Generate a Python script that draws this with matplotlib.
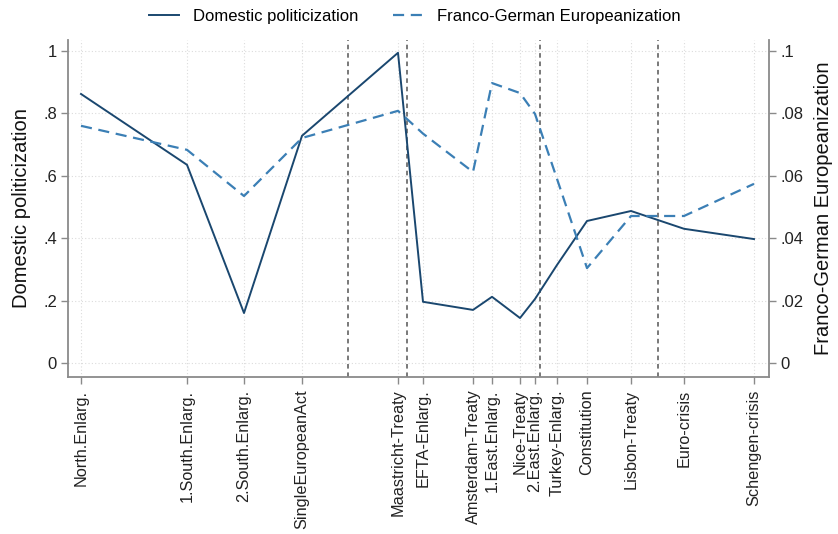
import matplotlib
matplotlib.use("Agg")
import matplotlib.pyplot as plt

plt.rcParams['font.family'] = ['Liberation Sans', 'DejaVu Sans']

events = ['North.Enlarg.', '1.South.Enlarg.', '2.South.Enlarg.', 'SingleEuropeanAct',
          'Maastricht-Treaty', 'EFTA-Enlarg.', 'Amsterdam-Treaty', '1.East.Enlarg.',
          'Nice-Treaty', '2.East.Enlarg.', 'Turkey-Enlarg.', 'Constitution',
          'Lisbon-Treaty', 'Euro-crisis', 'Schengen-crisis']
event_pos = [13, 119, 176, 234, 330, 355, 405, 424, 452, 467, 489, 519, 563, 616, 686]
domestic = [0.862, 0.635, 0.16, 0.728, 0.994, 0.196, 0.17, 0.212, 0.144, 0.205,
            0.314, 0.455, 0.487, 0.43, 0.397]
franco_german = [0.076, 0.0683, 0.0535, 0.0721, 0.0808, 0.0735, 0.0612, 0.0897,
                 0.0865, 0.0798, 0.059, 0.0304, 0.0471, 0.0471, 0.0574]
breaks = [280, 339, 472, 590]
left_ticks = [0, 0.2, 0.4, 0.6, 0.8, 1.0]
left_labels = ['0', '.2', '.4', '.6', '.8', '1']
right_ticks = [0, 0.02, 0.04, 0.06, 0.08, 0.1]
right_labels = ['0', '.02', '.04', '.06', '.08', '.1']

navy = '#1a476f'
blue = '#3b7fb5'
axcol = '#8a8a8a'

fig = plt.figure(figsize=(8.38, 5.34), dpi=100)
ax = fig.add_axes([68 / 838, 1 - 377 / 534, (769 - 68) / 838, (377 - 40) / 534])
ax2 = ax.twinx()

ax.set_xlim(0, 701)
ax.set_ylim(-0.045, 1.035)
ax2.set_ylim(-0.0045, 0.1035)

# grid
for x in event_pos:
    ax.axvline(x, color='#dcdcdc', lw=0.8, ls=(0, (1, 2)), zorder=0)
for y in left_ticks:
    ax.axhline(y, color='#dcdcdc', lw=0.8, ls=(0, (1, 2)), zorder=0)
for x in breaks:
    ax.axvline(x, color='#555555', lw=1.1, ls=(0, (3, 2.5)), zorder=1)

l1, = ax.plot(event_pos, domestic, color=navy, lw=1.4, zorder=3,
              label='Domestic politicization')
l2, = ax2.plot(event_pos, franco_german, color=blue, lw=1.6, ls=(0, (5, 3)),
               zorder=3, label='Franco-German Europeanization')

ax.set_xticks(event_pos)
ax.set_xticklabels(events, rotation=90, fontsize=11.7)
ax.set_yticks(left_ticks)
ax.set_yticklabels(left_labels, fontsize=12)
ax2.set_yticks(right_ticks)
ax2.set_yticklabels(right_labels, fontsize=12)

for a in (ax, ax2):
    for s in a.spines.values():
        s.set_visible(False)
    a.tick_params(colors=axcol, labelcolor='#222222', length=5, width=1)
ax.spines['left'].set_visible(True)
ax.spines['bottom'].set_visible(True)
ax2.spines['right'].set_visible(True)
for s in (ax.spines['left'], ax.spines['bottom'], ax2.spines['right']):
    s.set_color(axcol)
    s.set_linewidth(1.3)
ax.tick_params(axis='x', pad=4)
ax.tick_params(axis='y', pad=3)
ax2.tick_params(axis='y', pad=3)

ax.set_ylabel('Domestic politicization', fontsize=14.5, color='#111111', labelpad=9)
ax2.set_ylabel('Franco-German Europeanization', fontsize=14.5, color='#111111', labelpad=8)

fig.legend(handles=[l1, l2], loc='center', bbox_to_anchor=(0.495, 1 - 16 / 534),
           ncol=2, frameon=False, fontsize=12, handlelength=1.8, handletextpad=0.8,
           columnspacing=2.1)

fig.savefig('out.png', dpi=100)
